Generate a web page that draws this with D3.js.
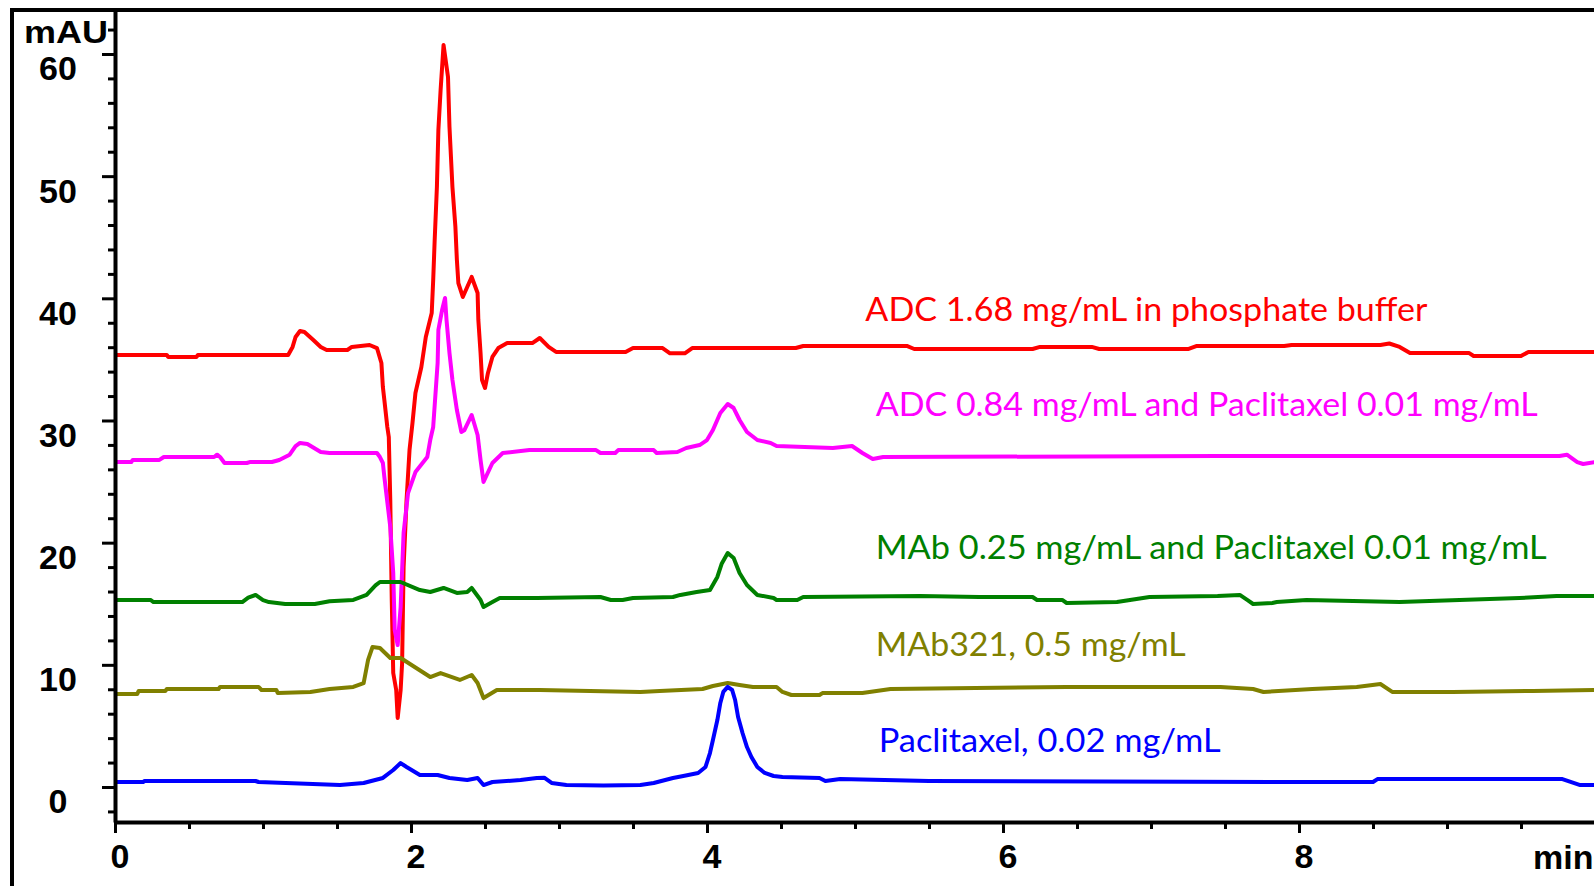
<!DOCTYPE html>
<html><head><meta charset="utf-8">
<script src="https://cdn.jsdelivr.net/npm/d3@7"></script>
<style>html,body{margin:0;padding:0;background:#fff;overflow:hidden}</style>
</head><body>
<svg id="chart" width="1594" height="886"></svg>
<script>
// ---- data: [time (min), absorbance (mAU)] ----
const adcPhosphate = [
[0,35.36],[0.35,35.36],[0.36,35.2],[0.55,35.2],[0.56,35.36],[1.17,35.36],[1.20,36.02],[1.22,36.83],[1.25,37.32],[1.28,37.24],[1.34,36.59],[1.39,36.02],[1.43,35.77],[1.57,35.77],[1.60,36.02],[1.72,36.18],[1.77,35.93],[1.80,34.71],[1.81,32.74],[1.82,31.68],[1.84,29.47],[1.85,28.65],[1.86,23.49],[1.87,15.31],[1.88,9.33],[1.90,7.94],[1.91,5.65],[1.93,7.94],[1.94,10.15],[1.95,18.01],[1.97,23.49],[1.99,27.58],[2.01,29.8],[2.03,32.25],[2.07,34.38],[2.10,36.83],[2.14,38.80],[2.15,41.50],[2.16,44.77],[2.175,49.11],[2.185,53.78],[2.20,57.05],[2.22,60.74],[2.25,58.12],[2.26,54.02],[2.28,49.11],[2.30,45.84],[2.31,43.14],[2.32,41.25],[2.35,40.11],[2.41,41.75],[2.45,40.44],[2.455,38.23],[2.47,35.52],[2.48,33.31],[2.50,32.66],[2.52,33.89],[2.55,35.20],[2.59,35.93],[2.65,36.34],[2.82,36.34],[2.87,36.75],[2.93,36.02],[2.98,35.61],[3.45,35.61],[3.50,35.93],[3.70,35.93],[3.75,35.5],[3.85,35.5],[3.90,35.93],[4.6,35.93],[4.65,36.1],[5.35,36.1],[5.4,35.85],[6.2,35.85],[6.25,36.02],[6.6,36.02],[6.65,35.85],[7.25,35.85],[7.31,36.1],[7.9,36.1],[7.95,36.18],[8.55,36.18],[8.61,36.3],[8.68,36.02],[8.75,35.52],[9.15,35.52],[9.18,35.28],[9.5,35.28],[9.55,35.61],[10,35.61]
];
const adcPaclitaxel = [
[0,26.6],[0.11,26.6],[0.12,26.77],[0.30,26.77],[0.33,27.01],[0.67,27.01],[0.69,27.2],[0.71,27.01],[0.74,26.52],[0.89,26.52],[0.91,26.6],[1.06,26.6],[1.11,26.77],[1.18,27.2],[1.22,27.9],[1.25,28.16],[1.30,28.08],[1.39,27.42],[1.45,27.34],[1.77,27.34],[1.79,27.01],[1.81,26.52],[1.82,25.37],[1.86,21.28],[1.88,17.52],[1.89,12.85],[1.91,11.62],[1.93,14.73],[1.95,20.79],[1.98,24.06],[2.03,25.78],[2.11,27.01],[2.13,28.40],[2.15,29.47],[2.18,34.71],[2.185,37.41],[2.21,39.04],[2.23,40.03],[2.24,38.23],[2.26,35.52],[2.28,33.31],[2.31,30.86],[2.34,29.06],[2.36,29.2],[2.41,30.45],[2.45,28.81],[2.47,26.77],[2.49,24.97],[2.55,26.52],[2.62,27.34],[2.80,27.58],[3.25,27.58],[3.28,27.34],[3.38,27.34],[3.40,27.58],[3.64,27.58],[3.66,27.34],[3.80,27.42],[3.86,27.75],[3.95,27.99],[4.00,28.40],[4.04,29.22],[4.09,30.61],[4.14,31.35],[4.18,31.02],[4.22,30.04],[4.27,29.06],[4.34,28.40],[4.43,28.16],[4.47,27.91],[4.85,27.75],[4.98,27.91],[5.05,27.34],[5.12,26.85],[5.19,27.01],[7.45,27.09],[9.76,27.09],[9.81,27.2],[9.88,26.6],[9.92,26.44],[10,26.6]
];
const mabPaclitaxel = [
[0,15.31],[0.24,15.31],[0.26,15.14],[0.86,15.14],[0.9,15.5],[0.95,15.72],[1.0,15.3],[1.04,15.14],[1.15,14.98],[1.35,14.98],[1.45,15.2],[1.61,15.31],[1.70,15.72],[1.76,16.5],[1.79,16.78],[1.93,16.78],[2.06,16.12],[2.13,15.96],[2.22,16.29],[2.31,15.88],[2.38,15.96],[2.41,16.29],[2.47,15.31],[2.49,14.73],[2.55,15.14],[2.60,15.47],[2.85,15.47],[3.28,15.55],[3.35,15.31],[3.43,15.31],[3.50,15.47],[3.77,15.55],[3.82,15.72],[3.93,15.96],[4.02,16.12],[4.07,17.19],[4.10,18.3],[4.14,19.15],[4.18,18.74],[4.22,17.52],[4.27,16.53],[4.34,15.72],[4.45,15.47],[4.47,15.31],[4.61,15.31],[4.65,15.55],[5.44,15.63],[5.84,15.55],[6.20,15.55],[6.23,15.31],[6.40,15.31],[6.43,15.06],[6.77,15.14],[6.99,15.55],[7.45,15.63],[7.60,15.72],[7.65,15.31],[7.69,14.98],[7.82,15.06],[7.85,15.14],[8.05,15.31],[8.68,15.14],[9.49,15.47],[9.74,15.63],[10,15.63]
];
const mab321 = [
[0,7.61],[0.15,7.61],[0.16,7.86],[0.34,7.86],[0.35,8.02],[0.70,8.02],[0.71,8.19],[0.97,8.19],[0.99,7.94],[1.09,7.94],[1.10,7.69],[1.32,7.78],[1.45,8.02],[1.61,8.19],[1.68,8.51],[1.71,10.4],[1.74,11.46],[1.79,11.38],[1.86,10.56],[1.93,10.56],[2.13,9.0],[2.20,9.33],[2.33,8.76],[2.41,9.17],[2.45,8.51],[2.49,7.28],[2.58,7.94],[2.87,7.94],[3.55,7.78],[3.68,7.86],[3.97,8.02],[4.04,8.27],[4.14,8.51],[4.22,8.35],[4.31,8.19],[4.47,8.19],[4.51,7.78],[4.57,7.53],[4.76,7.53],[4.78,7.69],[5.05,7.69],[5.24,8.02],[6.43,8.19],[7.47,8.19],[7.69,8.02],[7.76,7.78],[8.09,8.02],[8.39,8.19],[8.55,8.43],[8.63,7.78],[9.04,7.78],[9.58,7.86],[10,7.94]
];
const paclitaxel = [
[0,0.41],[0.19,0.41],[0.20,0.49],[0.95,0.49],[0.97,0.41],[1.52,0.16],[1.68,0.33],[1.81,0.74],[1.88,1.39],[1.93,1.96],[1.97,1.64],[2.06,0.98],[2.18,0.98],[2.26,0.74],[2.38,0.57],[2.45,0.74],[2.49,0.16],[2.55,0.41],[2.74,0.57],[2.85,0.74],[2.90,0.76],[2.95,0.33],[3.05,0.16],[3.30,0.12],[3.55,0.16],[3.64,0.33],[3.77,0.74],[3.84,0.90],[3.94,1.15],[3.99,1.64],[4.02,2.78],[4.04,3.85],[4.07,5.48],[4.09,6.88],[4.11,7.78],[4.14,8.19],[4.17,7.94],[4.19,7.12],[4.21,5.73],[4.24,4.42],[4.27,3.27],[4.30,2.46],[4.34,1.64],[4.39,1.15],[4.45,0.90],[4.51,0.82],[4.76,0.74],[4.80,0.49],[4.90,0.65],[5.5,0.49],[8.0,0.41],[8.5,0.41],[8.53,0.65],[9.78,0.65],[9.9,0.16],[10,0.16]
];

const seriesLabels = [
  "ADC 1.68 mg/mL in phosphate buffer",
  "ADC 0.84 mg/mL and Paclitaxel 0.01 mg/mL",
  "MAb 0.25 mg/mL and Paclitaxel 0.01 mg/mL",
  "MAb321, 0.5 mg/mL",
  "Paclitaxel, 0.02 mg/mL"
];
const seriesData = [adcPhosphate, adcPaclitaxel, mabPaclitaxel, mab321, paclitaxel];
// label anchor in data coords [min, mAU] and target width in px
const labelAnchors = [[5.07,38.15],[5.14,30.4],[5.14,18.7],[5.14,10.75],[5.16,2.85]];
const labelWidths = [562, 662, 671, 310, 342];
const seriesColors = ["#ff0000","#ff00ff","#008000","#808000","#0000ff"];

const yMajorTicks = [0,10,20,30,40,50,60];
const yMinorTicks = [-2,2,4,6,8,12,14,16,18,22,24,26,28,32,34,36,38,42,44,46,48,52,54,56,58,62];
const xMajorTicks = [0,2,4,6,8];
const xMinorTicks = [0.5,1,1.5,2.5,3,3.5,4.5,5,5.5,6.5,7,7.5,8.5,9,9.5];

// ---- drawing ----
const svg = d3.select("#chart");
svg.append("rect").attr("width",1594).attr("height",886).attr("fill","#fff");

const x = d3.scaleLinear().domain([0,10]).range([115,1595]);
const y = d3.scaleLinear().domain([-2.865,63.6]).range([822,10]);

// outer frame (left + top visible)
svg.append("path").attr("d","M12,886V10H1594").attr("fill","none").attr("stroke","#000").attr("stroke-width",4);

const line = d3.line().x(d=>x(d[0])).y(d=>y(d[1]));
seriesData.forEach((data,i)=>{
  svg.append("path").datum(data).attr("d",line)
    .attr("fill","none").attr("stroke",seriesColors[i])
    .attr("stroke-width",4).attr("stroke-linejoin","round");
});

seriesLabels.forEach((t,i)=>{
  svg.append("text").attr("x",x(labelAnchors[i][0])).attr("y",y(labelAnchors[i][1]))
    .attr("fill",seriesColors[i]).attr("font-family","Lato, 'Open Sans', sans-serif")
    .attr("font-size",32).attr("textLength",labelWidths[i]).attr("lengthAdjust","spacingAndGlyphs")
    .text(t);
});

const tickFont = "'Liberation Sans', Arial, sans-serif";

// y axis
const yAxisG = svg.append("g").attr("transform","translate(115,0)")
  .call(d3.axisLeft(y).tickValues(yMajorTicks).tickSize(13).tickSizeOuter(0).tickFormat(d3.format("d")));
yAxisG.select(".domain").attr("stroke-width",4);
yAxisG.selectAll(".tick line").attr("stroke-width",3);
yAxisG.selectAll(".tick text").attr("x",-57).attr("dy",null).attr("y",26)
  .attr("text-anchor","middle").attr("font-family",tickFont).attr("font-weight","bold")
  .attr("font-size",34).attr("fill","#000");
const yMinorG = svg.append("g").attr("transform","translate(115,0)")
  .call(d3.axisLeft(y).tickValues(yMinorTicks).tickSize(7).tickFormat(""));
yMinorG.select(".domain").remove();
yMinorG.selectAll(".tick line").attr("stroke-width",3);

// x axis
const xAxisG = svg.append("g").attr("transform","translate(0,822)")
  .call(d3.axisBottom(x).tickValues(xMajorTicks).tickSize(11).tickSizeOuter(0).tickFormat(d3.format("d")));
xAxisG.select(".domain").attr("stroke-width",4);
xAxisG.selectAll(".tick line").attr("stroke-width",3);
xAxisG.selectAll(".tick text").attr("x",4.5).attr("dy",null).attr("y",46)
  .attr("font-family",tickFont).attr("font-weight","bold").attr("font-size",34).attr("fill","#000");
const xMinorG = svg.append("g").attr("transform","translate(0,822)")
  .call(d3.axisBottom(x).tickValues(xMinorTicks).tickSize(7).tickFormat(""));
xMinorG.select(".domain").remove();
xMinorG.selectAll(".tick line").attr("stroke-width",3);

// axis titles
svg.append("text").attr("x",24).attr("y",43).attr("font-family",tickFont).attr("font-weight","bold")
  .attr("font-size",31).attr("textLength",84).attr("lengthAdjust","spacingAndGlyphs").text("mAU");
svg.append("text").attr("x",1533).attr("y",869).attr("font-family",tickFont).attr("font-weight","bold")
  .attr("font-size",34).text("min");
</script>
</body></html>
